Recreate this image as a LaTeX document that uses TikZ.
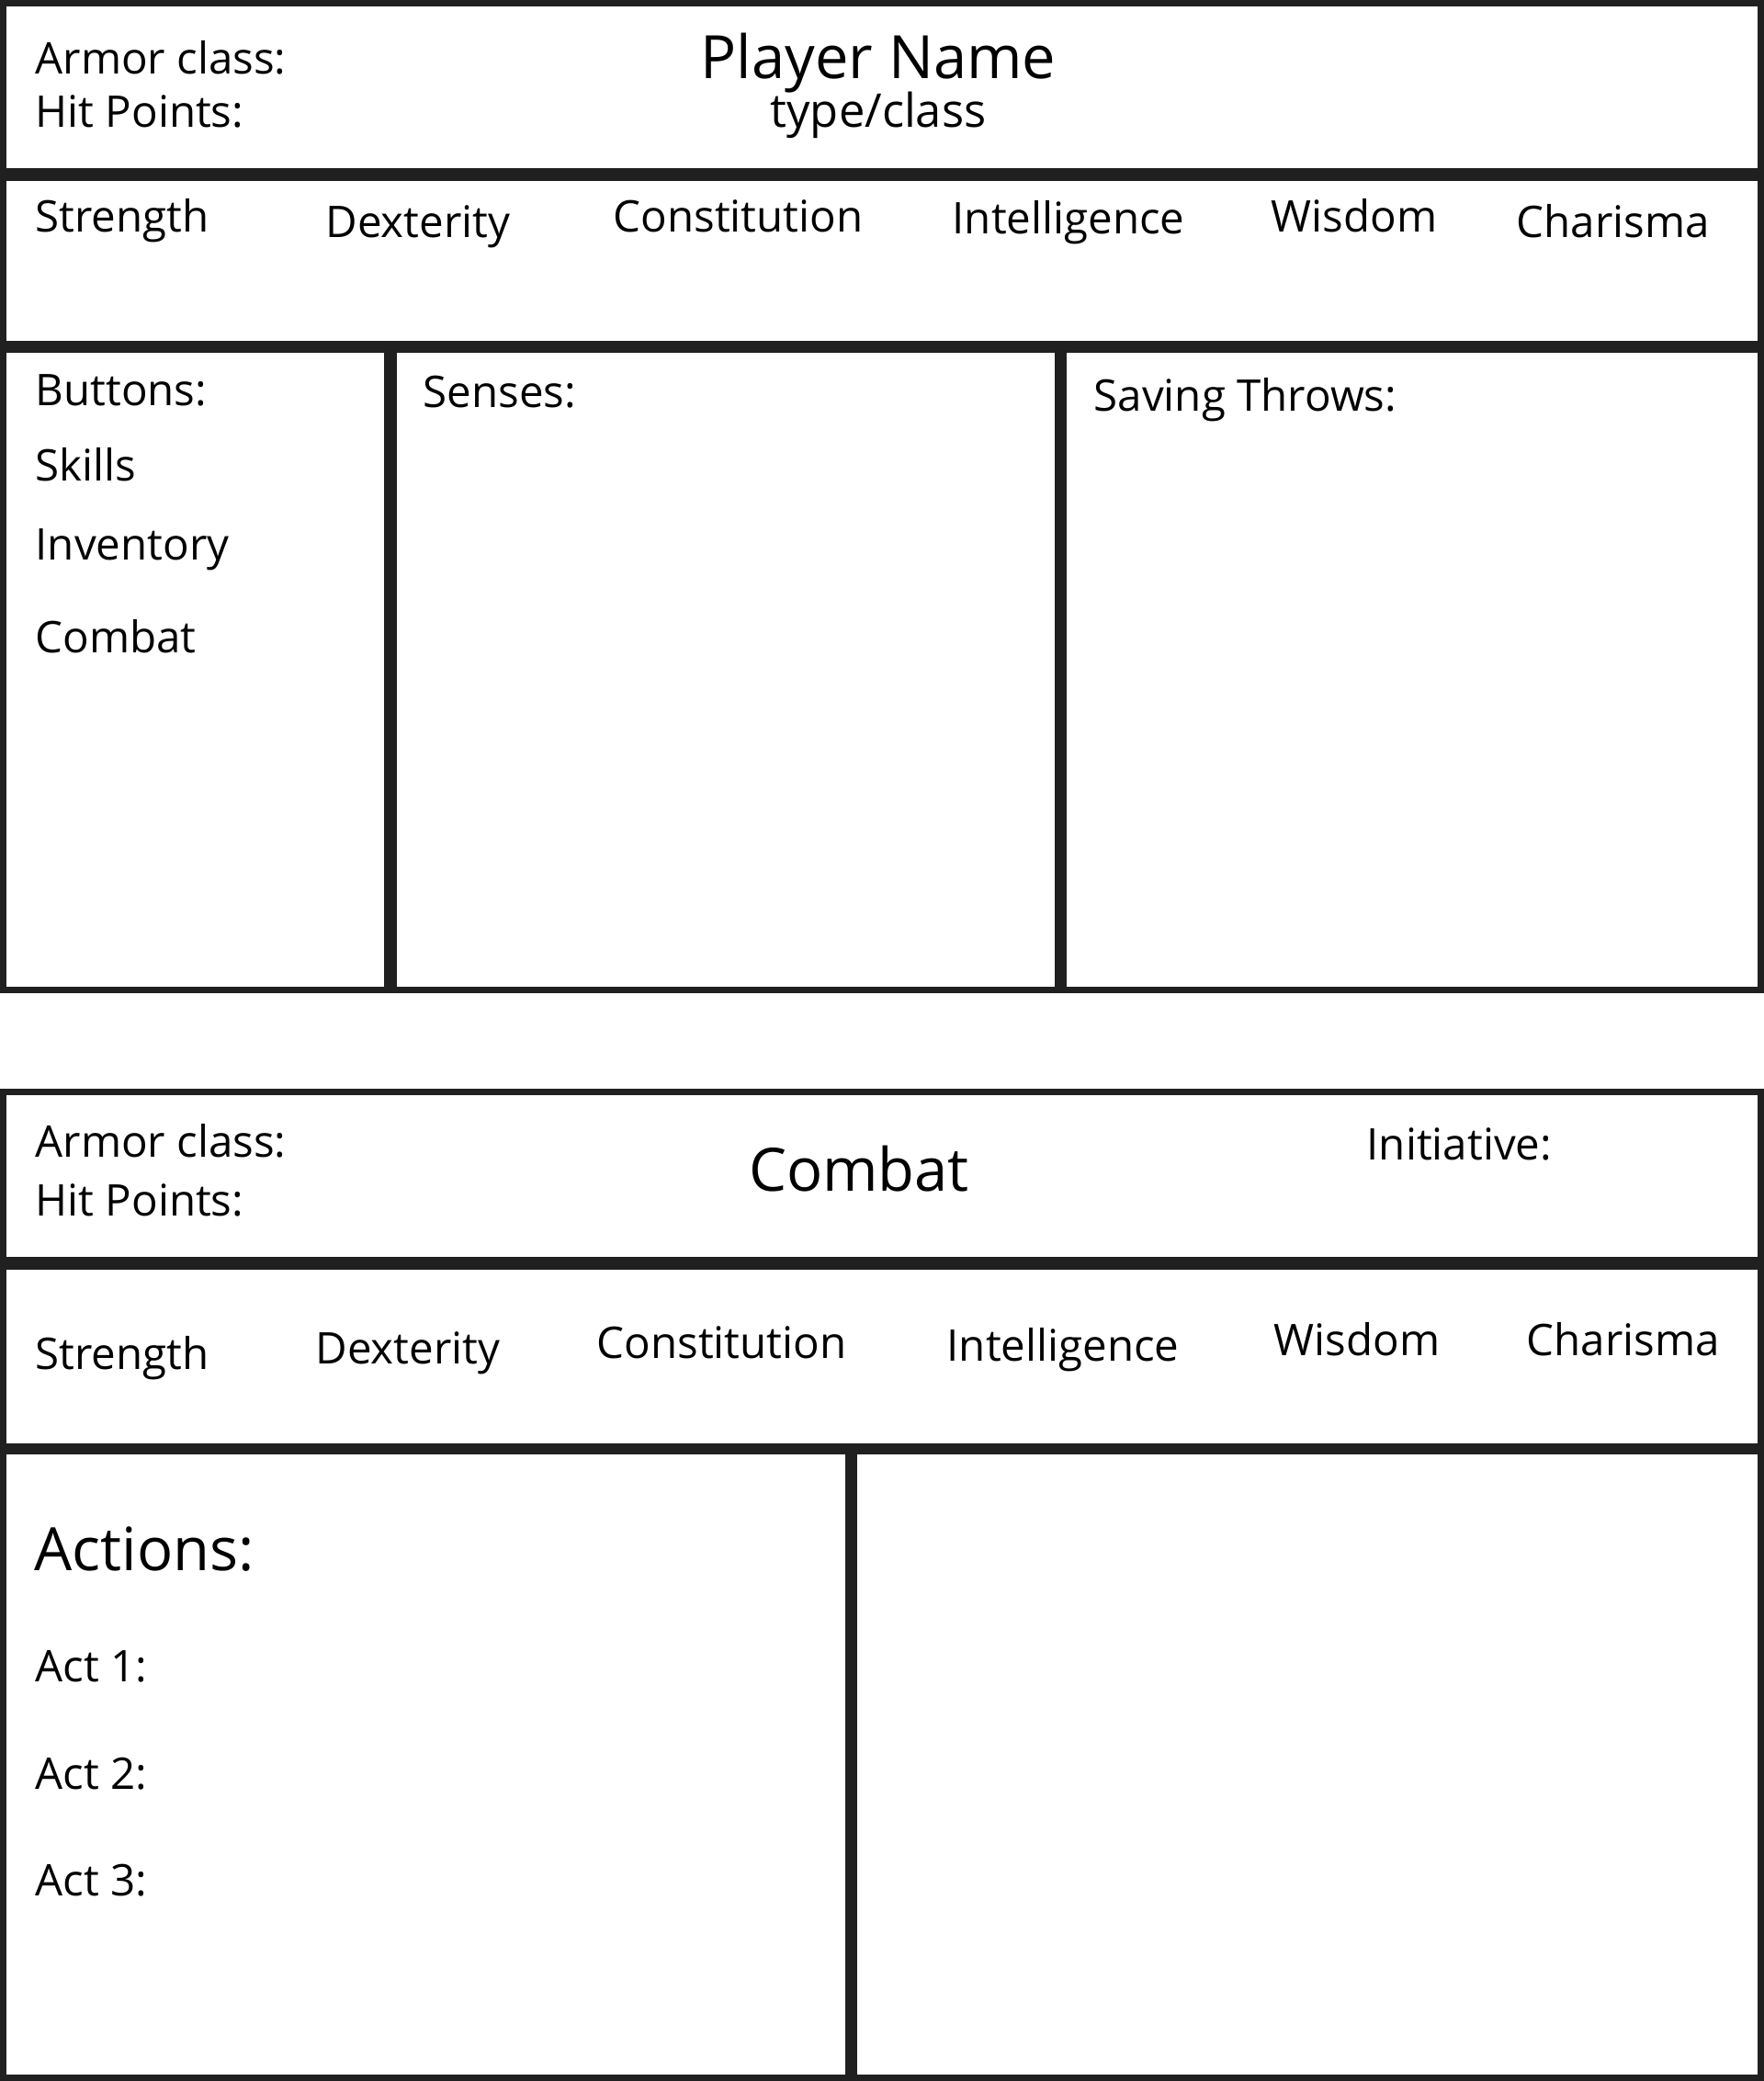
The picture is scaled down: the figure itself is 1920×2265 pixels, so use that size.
\documentclass[tikz,border=0pt]{standalone}
\usepackage{fontspec}
\setmainfont{Open Sans}
\definecolor{ink}{HTML}{202020}
\tikzset{%
    box/.style={draw=ink, line width=0.07cm},
    txt/.style={anchor=base west, inner sep=0pt,
        font=\fontsize{13.5pt}{16pt}\selectfont},
    big/.style={anchor=base, inner sep=0pt,
        font=\fontsize{18.5pt}{22pt}\selectfont}
}

\begin{document}
\begin{tikzpicture}[x=0.01cm, y=-0.01cm]
  \useasboundingbox (0,0) rectangle (1920,2265);

  % sheet
  \draw [box] (3.5,3.5) rectangle (1916.5,186.5);
  \draw [box] (3.5,193) rectangle (1916.5,374.5);
  \draw [box] (3.5,380) rectangle (422,1077);
  \draw [box] (428,380) rectangle (1151,1077);
  \draw [box] (1157,380) rectangle (1916.5,1077);

  \node (ac) [txt] at (38,80) {Armor class:};
  \node (hp) [txt] at (38,138) {Hit Points:};
  \node (name) [big] at (956,85) {Player Name};
  \node (type) [big, font=\fontsize{14.4pt}{17pt}\selectfont] at (956,138) {type/class};

  \node (str) [txt] at (38,252) {Strength};
  \node (dex) [txt] at (354,258) {Dexterity};
  \node (con) [txt] at (667,252) {Constitution};
  \node (int) [txt] at (1036,254) {Intelligence};
  \node (wis) [txt] at (1383,252) {Wisdom};
  \node (cha) [txt] at (1650,258) {Charisma};

  \node (btn) [txt] at (38,441) {Buttons:};
  \node (skl) [txt] at (38,523) {Skills};
  \node (inv) [txt] at (38,609) {Inventory};
  \node (cmb) [txt] at (38,710) {Combat};
  \node (sen) [txt] at (460,443) {Senses:};
  \node (sav) [txt] at (1190,447) {Saving Throws:};

  % combat
  \draw [box] (3.5,1188.5) rectangle (1916.5,1371.5);
  \draw [box] (3.5,1378) rectangle (1916.5,1574);
  \draw [box] (3.5,1579.5) rectangle (923,2261.5);
  \draw [box] (929,1579.5) rectangle (1916.5,2261.5);

  \node (ac') [txt] at (38,1259) {Armor class:};
  \node (hp') [txt] at (38,1323) {Hit Points:};
  \node (fight) [big] at (935,1296) {Combat};
  \node (ini) [txt] at (1487,1262) {Initiative:};

  \node (str') [txt] at (38,1490) {Strength};
  \node (dex') [txt] at (343,1484) {Dexterity};
  \node (con') [txt] at (649,1478) {Constitution};
  \node (int') [txt] at (1030,1481) {Intelligence};
  \node (wis') [txt] at (1386,1475) {Wisdom};
  \node (cha') [txt] at (1661,1475) {Charisma};

  \node (act) [big, anchor=base west] at (37,1709) {Actions:};
  \node (a1) [txt] at (38,1830) {Act 1:};
  \node (a2) [txt] at (38,1947) {Act 2:};
  \node (a3) [txt] at (38,2063) {Act 3:};
\end{tikzpicture}
\end{document}
